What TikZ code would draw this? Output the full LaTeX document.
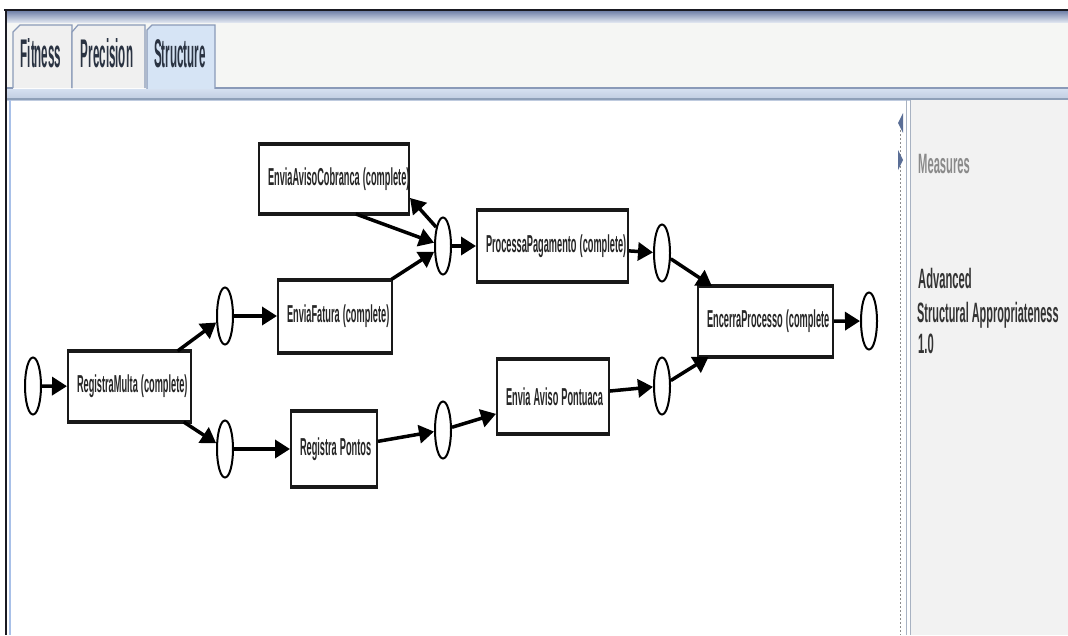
\documentclass[tikz,border=0pt]{standalone}
\usepackage{fontspec}
\setmainfont{Liberation Sans}
\usetikzlibrary{shapes.geometric,arrows.meta}
\newcommand\sqz[2]{\scalebox{#1}[1]{#2}}
\definecolor{framedark}{HTML}{1A1A22}
\definecolor{bandblue}{HTML}{7383AA}
\definecolor{bandlight}{HTML}{DDE3EE}
\definecolor{headbg}{HTML}{F5F6F4}
\definecolor{tabline}{HTML}{8A9AB8}
\definecolor{tabsel}{HTML}{D6E4F5}
\definecolor{tabbg}{HTML}{F0F0F0}
\definecolor{tabtxt}{HTML}{2A3342}
\definecolor{subband}{HTML}{D5E0F0}
\definecolor{subbanddark}{HTML}{8FA0B8}
\definecolor{leftblue}{HTML}{A8C0E8}
\definecolor{panelbg}{HTML}{F2F2F2}
\definecolor{divline}{HTML}{A8B2C2}
\definecolor{arrowblue}{HTML}{5A6E96}
\definecolor{meastxt}{HTML}{8A8A8A}
\definecolor{paneltxt}{HTML}{333333}
\begin{document}
\begin{tikzpicture}[x=1pt,y=-1pt,
  place/.style={ellipse, draw=black, line width=2pt, fill=white,
    minimum width=16pt, minimum height=57pt, inner sep=0pt},
  trans/.style={rectangle, draw=black!90, line width=2pt, fill=white,
    inner xsep=9pt, inner ysep=0pt, align=left,
    font=\bfseries\fontsize{24.5}{26}\selectfont, text=black!85},
  arr/.style={line width=3.5pt, draw=black, -{Triangle[length=15pt,width=18pt]}},
  tabtext/.style={anchor=base, inner sep=0pt, text=tabtxt,
    font=\bfseries\fontsize{40}{42}\selectfont},
  paneltext/.style={anchor=base west, inner sep=0pt, text=paneltxt,
    font=\bfseries\fontsize{28}{30}\selectfont}]
\useasboundingbox (0,0) rectangle (1068,635);
\clip (0,0) rectangle (1068,635);
\fill[white] (0,0) rectangle (1068,635);
% header
\fill[headbg] (6,10) rectangle (1068,88);
\shade[top color=bandblue, bottom color=bandlight] (6,11) rectangle (1068,22);
\fill[tabbg] (13,88) -- (13,32) -- (20,25) -- (72,25) -- (72,88) -- cycle;
\draw[tabline, line width=1.2pt] (13,88) -- (13,32) -- (20,25) -- (72,25) -- (72,88);
\fill[tabbg] (72,88) -- (72,32) -- (78,25) -- (145,25) -- (145,88) -- cycle;
\draw[tabline, line width=1.2pt] (72,88) -- (72,32) -- (78,25) -- (145,25) -- (145,88);
\fill[tabsel] (147,89) -- (147,30) -- (152,25) -- (215,25) -- (215,89) -- cycle;
\draw[tabline, line width=1.2pt] (147,89) -- (147,30) -- (152,25) -- (215,25) -- (215,89);
\draw[tabline, line width=2pt] (6,88) -- (13,88) (215,88) -- (1068,88);
\shade[top color=subband, bottom color=subband!70!tabline] (6,89) rectangle (1068,100);
\draw[subbanddark, line width=1.5pt] (6,99) -- (1068,99);
\node[tabtext] (tF) at (41,67) {\sqz{0.29}{Fitness}};
\node[tabtext] (tP) at (107,67) {\sqz{0.29}{Precision}};
\node[tabtext] (tS) at (180,67) {\sqz{0.29}{Structure}};
% frame
\draw[framedark, line width=2.5pt] (4,10) -- (1068,10);
\draw[framedark, line width=2.5pt] (6,9) -- (6,635);
\draw[leftblue, line width=2pt] (10,100) -- (10,635);
% right panel
\fill[panelbg] (910,100) rectangle (1068,635);
\draw[divline, line width=1pt] (906.5,100) -- (906.5,635) (910,100) -- (910,635);
\draw[black!45, line width=0.8pt, dash pattern=on 2pt off 2pt] (900.5,130) -- (900.5,635);
\fill[arrowblue] (903,113) -- (898,123) -- (903,133) -- cycle;
\fill[arrowblue] (898,150) -- (903,160) -- (898,170) -- cycle;
\node[paneltext, text=meastxt] (mM) at (918,173) {\sqz{0.40}{Measures}};
\node[paneltext] (mA) at (918,288) {\sqz{0.40}{Advanced}};
\node[paneltext] (mS) at (917,322) {\sqz{0.39}{Structural Appropriateness}};
\node[paneltext] (mV) at (918,353) {\sqz{0.40}{1.0}};
% places
\node[place] (c0) at (33,386) {};
\node[place] (c1) at (225,316) {};
\node[place] (c2) at (225,449) {};
\node[place] (c3) at (443,246) {};
\node[place] (c4) at (443,430) {};
\node[place] (c5) at (662,253) {};
\node[place] (c6) at (662,386) {};
\node[place] (c7) at (869,321) {};
% transitions
\node[trans, text width=132pt, minimum height=68pt] (EAC) at (334,179) {\sqz{0.376}{EnviaAvisoCobranca (complete)}};
\node[trans, text width=96pt, minimum height=71pt] (EF) at (335,316) {\sqz{0.376}{EnviaFatura (complete)}};
\node[trans, text width=105pt, minimum height=69pt] (RM) at (129.5,386.5) {\sqz{0.376}{RegistraMulta (complete)}};
\node[trans, text width=68pt, minimum height=74pt, align=center] (RP) at (334,449) {\sqz{0.376}{Registra Pontos}};
\node[trans, text width=133pt, minimum height=70pt] (PP) at (552.5,246) {\sqz{0.376}{ProcessaPagamento (complete)}};
\node[trans, text width=94pt, minimum height=73pt] (EAP) at (553,396.5) {\sqz{0.376}{Envia Aviso Pontuaca}};
\node[trans, text width=117pt, minimum height=69pt] (EP) at (765.5,321.5) {\sqz{0.376}{EncerraProcesso (complete}};
\foreach \n in {EAC,EF,RM,RP,PP,EAP,EP}
  \draw[line width=4pt, black!90] (\n.north west) -- (\n.north east) (\n.south west) -- (\n.south east);
% arcs
\draw[arr] (c0) -- (RM);
\draw[arr] (RM) -- (c1);
\draw[arr] (RM) -- (c2);
\draw[arr] (c1) -- (EF);
\draw[arr] (c2) -- (RP);
\draw[arr] (EF) -- (c3);
\draw[arr] (EAC.-58) -- (c3);
\draw[arr] (c3.110) -- (EAC.-14);
\draw[arr] (c3) -- (PP);
\draw[arr] (PP) -- (c5);
\draw[arr] (RP) -- (c4);
\draw[arr] (c4) -- (EAP);
\draw[arr] (EAP) -- (c6);
\draw[arr] (c5) -- (EP);
\draw[arr] (c6) -- (EP);
\draw[arr] (EP) -- (c7);
\end{tikzpicture}
\end{document}
